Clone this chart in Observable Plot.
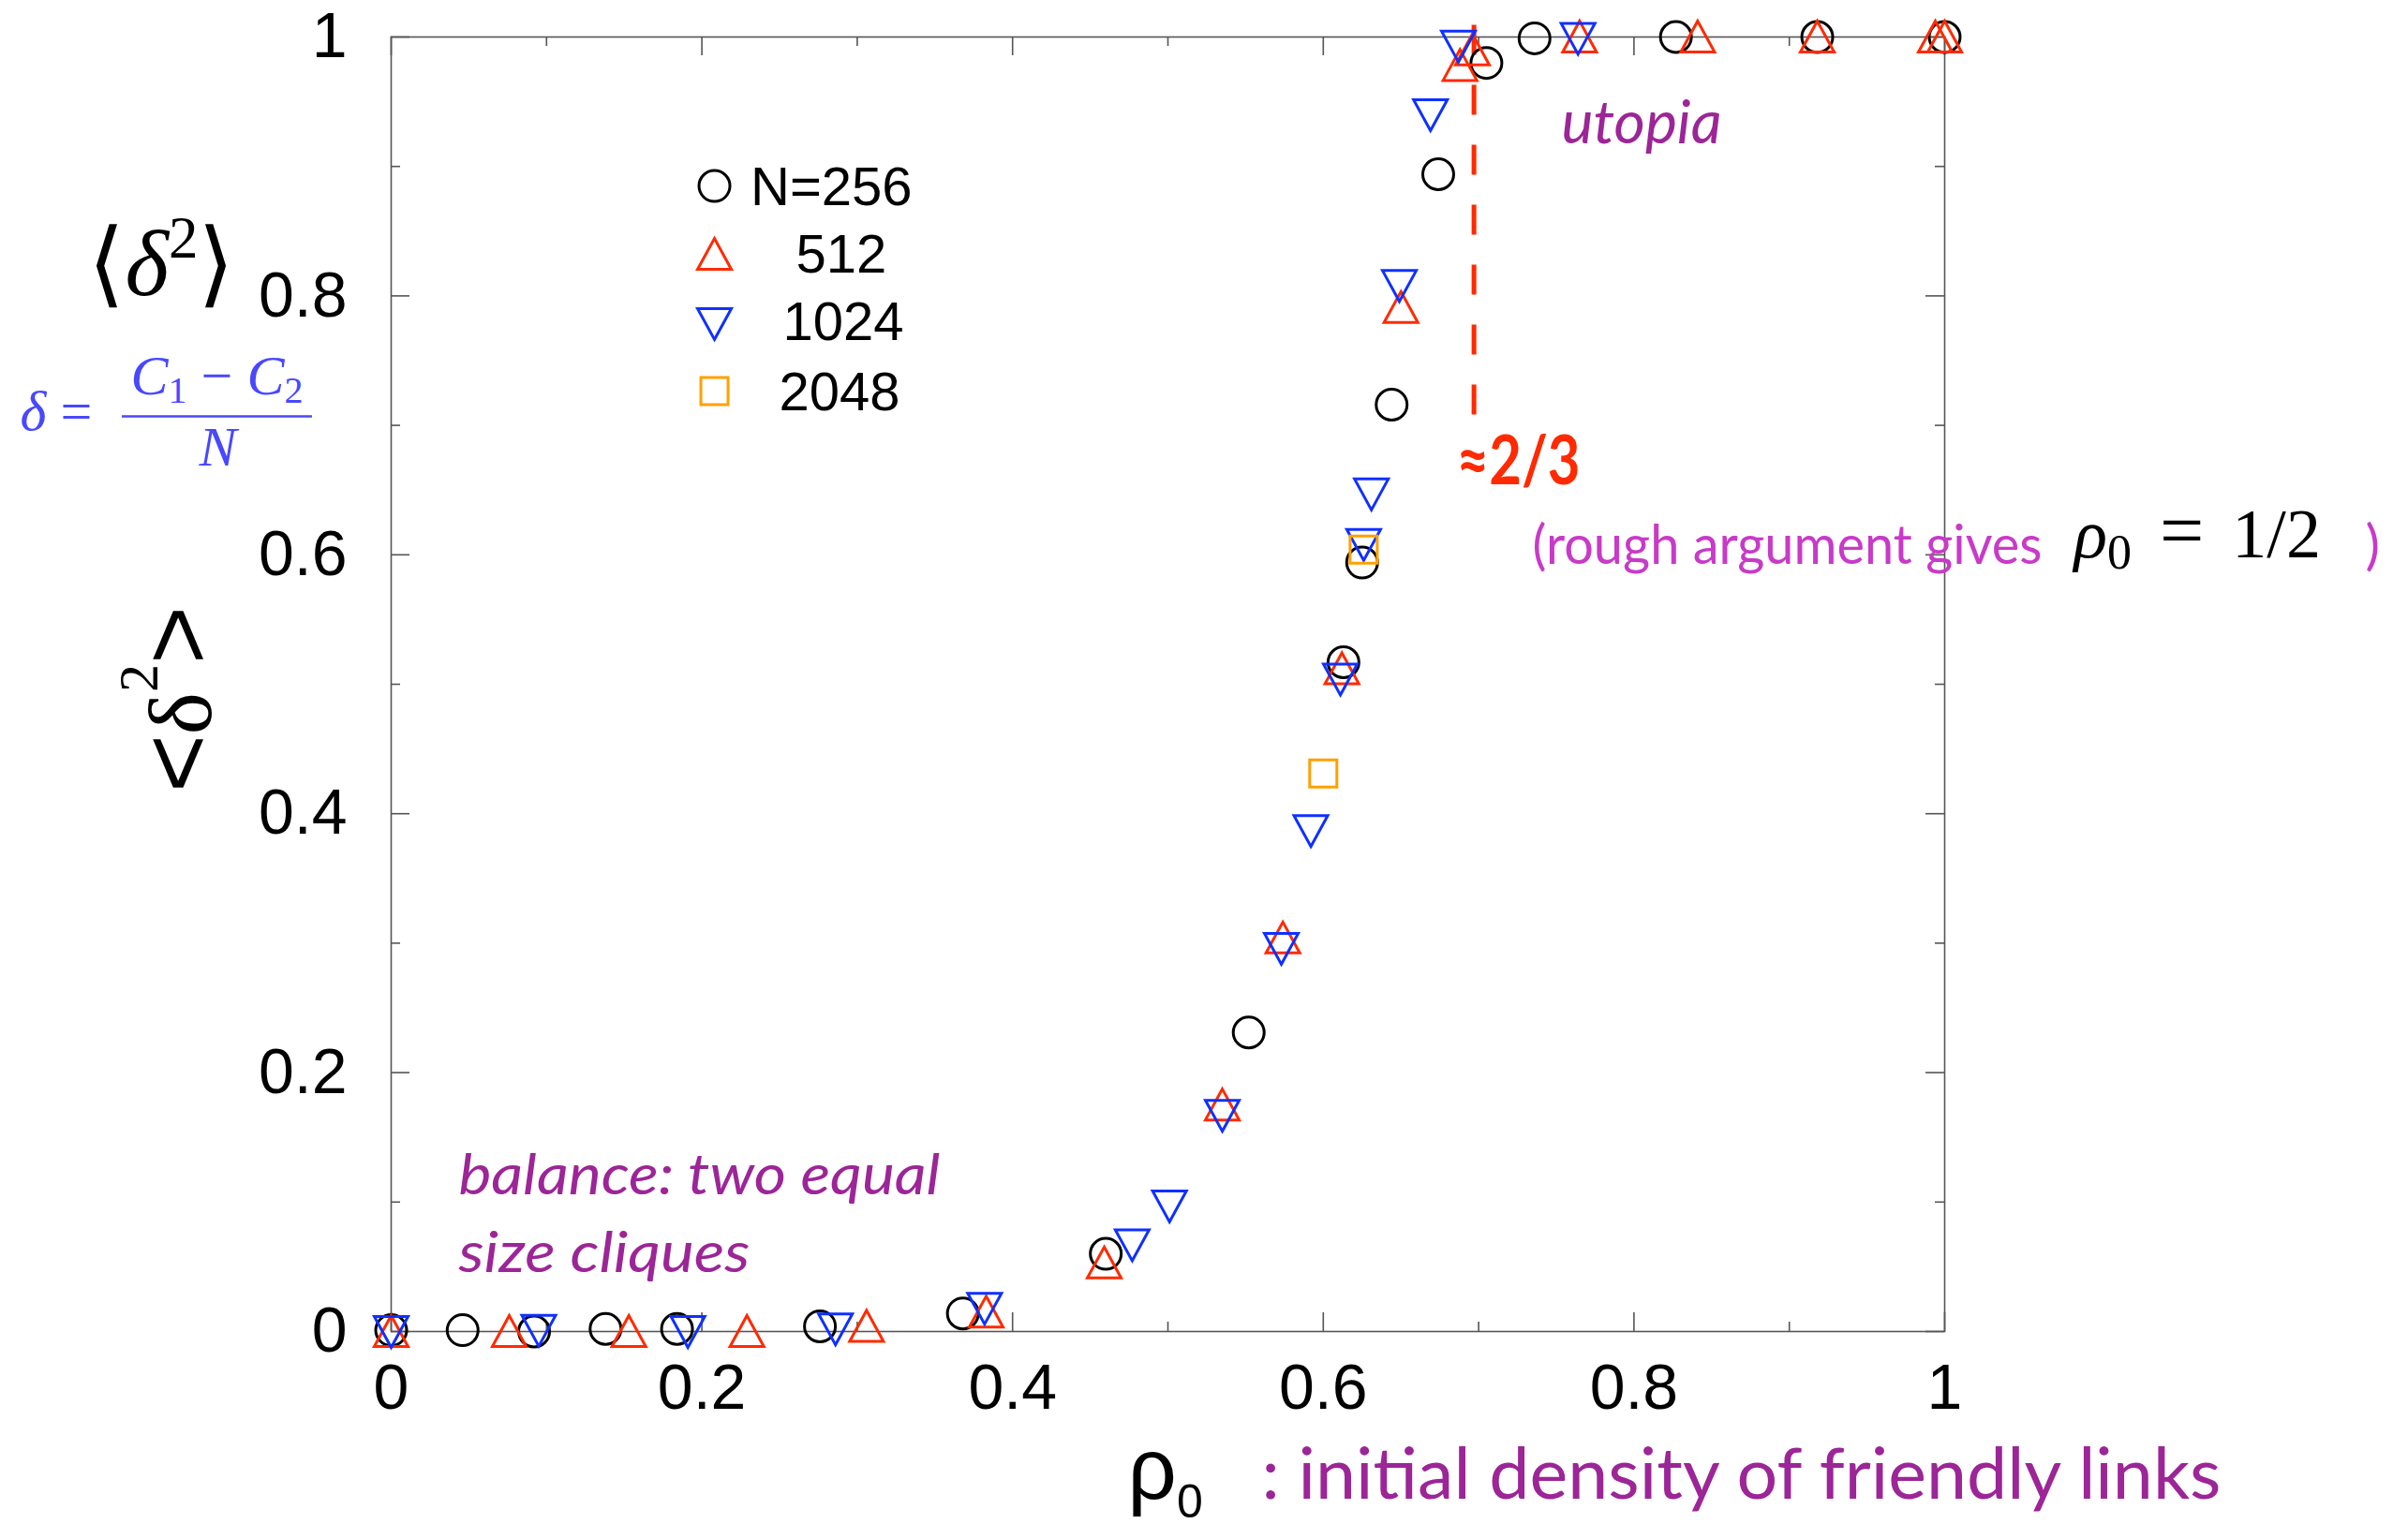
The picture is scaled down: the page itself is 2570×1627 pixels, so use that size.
<!DOCTYPE html>
<html><head><meta charset="utf-8">
<script src="https://cdn.jsdelivr.net/npm/d3@7"></script>
<script src="https://cdn.jsdelivr.net/npm/@observablehq/plot@0.6"></script>
<style>html,body{margin:0;padding:0;background:#fff;} #chart svg{display:block;}</style>
</head><body><div id="chart"></div>
<script>
// ---------------- data ----------------
const rho256 = [0, 0.046, 0.092, 0.138, 0.184, 0.276, 0.368, 0.460, 0.552, 0.613, 0.625, 0.644, 0.674, 0.705, 0.736, 0.827, 0.918, 1.0];
const d256   = [0.001, 0.001, 0.000, 0.002, 0.002, 0.004, 0.014, 0.060, 0.231, 0.517, 0.594, 0.716, 0.894, 0.980, 0.999, 1.0, 1.0, 1.0];
const rho512 = [0, 0.076, 0.153, 0.229, 0.306, 0.383, 0.459, 0.535, 0.574, 0.612, 0.650, 0.688, 0.696, 0.765, 0.841, 0.918, 0.994, 1.0];
const d512   = [0, 0, 0, 0, 0.004, 0.015, 0.053, 0.175, 0.304, 0.512, 0.791, 0.978, 0.990, 1.0, 1.0, 1.0, 1.0, 1.0];
const rho1024 = [0, 0.095, 0.191, 0.286, 0.382, 0.477, 0.501, 0.535, 0.573, 0.592, 0.611, 0.626, 0.631, 0.649, 0.669, 0.687, 0.764];
const d1024   = [0, 0.001, 0, 0.002, 0.018, 0.067, 0.097, 0.167, 0.296, 0.387, 0.504, 0.608, 0.647, 0.808, 0.940, 0.993, 0.999];
const rho2048 = [0.600, 0.626];
const d2048   = [0.431, 0.604];
const legendLabels = ["N=256", "512", "1024", "2048"];
const majorTicks = [0, 0.2, 0.4, 0.6, 0.8, 1];
const minorTicks = [0.1, 0.3, 0.5, 0.7, 0.9];
const threshold = 0.697;          // "≈2/3" dashed marker
const thresholdSpan = [1.009, 0.708];

// ---------------- styling ----------------
const W = 2570, H = 1627, mL = 417, mR = 495, mT = 39, mB = 206;
const pw = W - mL - mR, ph = H - mT - mB;
const C = {k: "#000000", red: "#ff2a00", blue: "#0f30ff", orange: "#ffa000",
           purple: "#9c2597", magenta: "#c83ac8", fblue: "#4848ff", axis: "#555555"};
const upTri = {draw(ctx, size){ const r = Math.sqrt(size/Math.PI); ctx.moveTo(0,-r); ctx.lineTo(r*1.06, r*0.94); ctx.lineTo(-r*1.06, r*0.94); ctx.closePath(); }};
const downTri = {draw(ctx, size){ const r = Math.sqrt(size/Math.PI); ctx.moveTo(0,r); ctx.lineTo(r*1.06,-r*0.94); ctx.lineTo(-r*1.06,-r*0.94); ctx.closePath(); }};
const sq = {draw(ctx, size){ const r = Math.sqrt(size/Math.PI); ctx.rect(-r,-r,2*r,2*r); }};

const series = [
  {label: legendLabels[0], rho: rho256,  d: d256,  symbol: "circle", color: C.k,      r: 16.5},
  {label: legendLabels[1], rho: rho512,  d: d512,  symbol: upTri,    color: C.red,    r: 17},
  {label: legendLabels[2], rho: rho1024, d: d1024, symbol: downTri,  color: C.blue,   r: 17},
  {label: legendLabels[3], rho: rho2048, d: d2048, symbol: sq,       color: C.orange, r: 14.5}
];
const toRows = s => s.rho.map((x, i) => ({x, y: s.d[i]}));

// legend placement (in data units of the frame)
const legX = 0.2081;
const legSymY = [0.8849, 0.8321, 0.7786, 0.7265];
const legTextX = [0.2313, 0.2606, 0.2521, 0.2497];
const legTextY = [0.8698, 0.8177, 0.7656, 0.7120];

const txt = (s, o) => Plot.text([s], {text: d => d, ...o});
const fmt = d => String(d);

const marks = [
  Plot.frame({stroke: C.axis, strokeWidth: 1.6}),
  // inward ticks on all four sides
  Plot.tickX(majorTicks, {x: d => d, insetTop: ph - 20, stroke: C.axis, strokeWidth: 1.6}),
  Plot.tickX(majorTicks, {x: d => d, insetBottom: ph - 20, stroke: C.axis, strokeWidth: 1.6}),
  Plot.tickX(minorTicks, {x: d => d, insetTop: ph - 10, stroke: C.axis, strokeWidth: 1.6}),
  Plot.tickX(minorTicks, {x: d => d, insetBottom: ph - 10, stroke: C.axis, strokeWidth: 1.6}),
  Plot.tickY(majorTicks, {y: d => d, insetRight: pw - 20, stroke: C.axis, strokeWidth: 1.6}),
  Plot.tickY(majorTicks, {y: d => d, insetLeft: pw - 20, stroke: C.axis, strokeWidth: 1.6}),
  Plot.tickY(minorTicks, {y: d => d, insetRight: pw - 10, stroke: C.axis, strokeWidth: 1.6}),
  Plot.tickY(minorTicks, {y: d => d, insetLeft: pw - 10, stroke: C.axis, strokeWidth: 1.6}),
  Plot.axisX(majorTicks, {tickSize: 0, tickPadding: 34, fontSize: 68, label: null, fill: "#000", tickFormat: fmt}),
  Plot.axisY(majorTicks, {tickSize: 0, tickPadding: 47, fontSize: 68, label: null, fill: "#000", tickFormat: fmt}),
  // dashed threshold
  Plot.ruleX([threshold], {x: d => d, y1: thresholdSpan[0], y2: thresholdSpan[1], stroke: C.red, strokeWidth: 5, strokeDasharray: "32,32"}),
  // data
  ...series.map(s => Plot.dot(toRows(s), {x: "x", y: "y", symbol: s.symbol, r: s.r, stroke: s.color, strokeWidth: 3, fill: "none"})),
  // legend
  ...series.map((s, i) => Plot.dot([s], {x: () => legX, y: () => legSymY[i], symbol: s.symbol, r: s.r, stroke: s.color, strokeWidth: 3, fill: "none"})),
  ...series.map((s, i) => txt(s.label, {x: legTextX[i], y: legTextY[i], textAnchor: "start", lineAnchor: "bottom", fontSize: 58, fill: "#000"})),
  // annotations
  txt("utopia", {x: 0.7533, y: 0.9177, textAnchor: "start", lineAnchor: "bottom", fontSize: 64, fontStyle: "italic", fontFamily: "Lato", fill: C.purple}),
  txt("balance: two equal", {x: 0.0434, y: 0.106, textAnchor: "start", lineAnchor: "bottom", fontSize: 60, fontStyle: "italic", fontFamily: "Lato", fill: C.purple}),
  txt("size cliques", {x: 0.0434, y: 0.0463, textAnchor: "start", lineAnchor: "bottom", fontSize: 60, fontStyle: "italic", fontFamily: "Lato", fill: C.purple}),
  txt("≈2/3", {x: 0.6858, y: 0.6548, textAnchor: "start", lineAnchor: "bottom", fontSize: 72, fontWeight: "bold", fontFamily: "Lato", fill: C.red}),
  txt("(rough argument gives", {x: 0.7346, y: 0.5929, textAnchor: "start", lineAnchor: "bottom", fontSize: 58, fontFamily: "Lato", fill: C.magenta}),
  txt("ρ0 = 1/2", {x: 1.0832, y: 0.5977, textAnchor: "start", lineAnchor: "bottom", fontSize: 74, fontFamily: "Liberation Serif", fill: "#000"}),
  txt(")", {x: 1.2708, y: 0.5929, textAnchor: "start", lineAnchor: "bottom", fontSize: 58, fontFamily: "Lato", fill: C.magenta}),
  // x label
  txt("ρ0", {x: 0.4741, y: -0.1295, textAnchor: "start", lineAnchor: "bottom", fontSize: 92, fontFamily: "Liberation Sans", fill: "#000"}),
  txt(": initial density of friendly links", {x: 0.5603, y: -0.1295, textAnchor: "start", lineAnchor: "bottom", fontSize: 76, fontFamily: "Lato", fill: C.purple}),
  // y label (rotated)
  txt("<δ2>", {x: -0.1164, y: 0.4884, rotate: -90, textAnchor: "middle", lineAnchor: "bottom", fontSize: 106, fontFamily: "Liberation Sans", fill: "#000"}),
  // top-left math
  txt("⟨δ2⟩", {x: -0.1478, y: 0.801, textAnchor: "middle", lineAnchor: "bottom", fontSize: 100, fontFamily: "Liberation Serif", fill: "#000"}),
  // blue definition
  txt("δ =", {x: -0.2388, y: 0.6968, textAnchor: "start", lineAnchor: "bottom", fontSize: 60, fontFamily: "Liberation Serif", fill: C.fblue}),
  Plot.ruleY([0.7069], {y: d => d, x1: -0.1731, x2: -0.0507, stroke: C.fblue, strokeWidth: 2.5}),
  txt("C1 − C2", {x: -0.1122, y: 0.7236, textAnchor: "middle", lineAnchor: "bottom", fontSize: 60, fontFamily: "Liberation Serif", fill: C.fblue}),
  txt("N", {x: -0.1116, y: 0.6686, textAnchor: "middle", lineAnchor: "bottom", fontSize: 60, fontStyle: "italic", fontFamily: "Liberation Serif", fill: C.fblue})
];

const svg = Plot.plot({
  width: W, height: H, marginLeft: mL, marginRight: mR, marginTop: mT, marginBottom: mB,
  style: {background: "white", fontFamily: "'Liberation Sans', Arial, sans-serif", overflow: "visible"},
  x: {domain: [0, 1]}, y: {domain: [0, 1]},
  marks
});
document.getElementById("chart").appendChild(svg);

// ---- post-processing: fit widths and rich text (matched by text content) ----
const NS = "http://www.w3.org/2000/svg";
const allText = () => [...svg.querySelectorAll("text")];
const fits = [["utopia", 171], ["balance: two equal", 514], ["size cliques", 311], ["≈2/3", 132], ["(rough argument gives", 544], [": initial density of friendly links", 1024]];
for (const [s, w] of fits) allText().filter(t => t.textContent === s).forEach(t => {
  t.setAttribute("textLength", w); t.setAttribute("lengthAdjust", "spacingAndGlyphs");
});
function rich(s, parts) {
  allText().filter(t => t.textContent === s).forEach(el => {
    while (el.firstChild) el.removeChild(el.firstChild);
    for (const p of parts) {
      const ts = document.createElementNS(NS, "tspan");
      ts.textContent = p.t;
      for (const k in p) if (k !== "t") ts.setAttribute(k, p[k]);
      el.appendChild(ts);
    }
  });
}
rich("<δ2>", [{t: "<"}, {t: "δ", "font-family": "Liberation Serif", "font-size": 96}, {t: "2", "font-family": "Liberation Serif", "font-size": 60, dy: -57}, {t: ">", dy: 57}]);
rich("⟨δ2⟩", [{t: "⟨", "font-family": "DejaVu Sans", "font-weight": 300}, {t: "δ", "font-style": "italic"}, {t: "2", "font-size": 63, dy: -40}, {t: "⟩", dy: 40, "font-family": "DejaVu Sans", "font-weight": 300}]);
rich("δ =", [{t: "δ", "font-style": "italic"}, {t: " = "}]);
rich("C1 − C2", [{t: "C", "font-style": "italic"}, {t: "1", "font-size": 40, dy: 9}, {t: " − ", dy: -9}, {t: "C", "font-style": "italic"}, {t: "2", "font-size": 40, dy: 9}]);
rich("ρ0 = 1/2", [{t: "ρ", "font-style": "italic"}, {t: "0", "font-size": 52, dy: 12}, {t: "=", dy: -12, dx: 30, "font-size": 84}, {t: "1/2", dx: 30}]);
rich("ρ0", [{t: "ρ"}, {t: "0", "font-size": 50, dy: 20}]);
</script></body></html>
